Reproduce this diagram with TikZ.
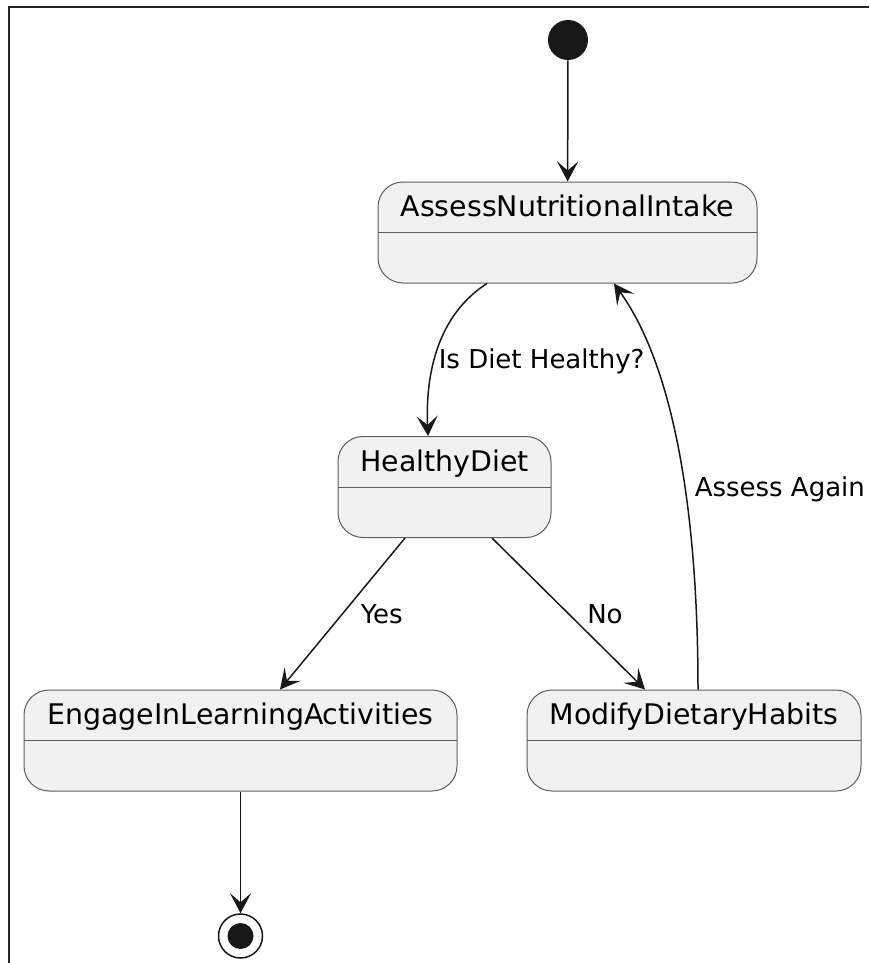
\documentclass[tikz,border=0pt]{standalone}
\usepackage{fontspec}
\setmainfont{DejaVu Sans}
\usetikzlibrary{arrows.meta}
\definecolor{statefill}{HTML}{F1F1F1}
\definecolor{stateline}{HTML}{181818}
\tikzset{
  statebox/.style={draw=stateline!70, line width=0.5pt, fill=statefill, rounded corners=12.5pt,
    minimum height=50.5pt, text height=10pt, text depth=26pt, inner xsep=0pt,
    font=\fontsize{14.2}{16}\selectfont,
    path picture={\draw[stateline!70, line width=0.5pt] (path picture bounding box.west) -- (path picture bounding box.east);}},
  trans/.style={draw=stateline, line width=0.75pt, -{Stealth[length=10pt,width=10.5pt,inset=4.5pt]}},
  lbl/.style={font=\fontsize{13}{15}\selectfont, anchor=west, inner sep=2pt}
}
\begin{document}
\begin{tikzpicture}[x=0.5pt, y=-0.5pt]
\useasboundingbox (0,0) rectangle (869,963);
\draw[line width=1pt, black!85] (9,963) -- (9,7) -- (869,7);
\node[circle, fill=stateline, minimum size=20pt, inner sep=0pt] (start) at (568,40) {};
\node[statebox, minimum width=189.5pt] (assess) at (567.5,232.5) {AssessNutritionalIntake};
\node[statebox, minimum width=106.5pt] (healthy) at (444.5,487) {HealthyDiet};
\node[statebox, minimum width=216.5pt] (engage) at (240.5,740.5) {EngageInLearningActivities};
\node[statebox, minimum width=167pt] (modify) at (694,740.5) {ModifyDietaryHabits};
\node[circle, draw=stateline, line width=0.75pt, minimum size=22pt, inner sep=0pt] (stop) at (240.5,936) {};
\node[circle, fill=stateline, minimum size=13pt, inner sep=0pt] (stopdot) at (stop) {};
\draw[trans] (start) -- (assess);
\draw[trans] ([xshift=-40.25pt]assess.south) .. controls (430,320) and (426,390) .. ([xshift=-8.25pt]healthy.north)
    node[lbl, pos=0.53] (ask) {Is Diet Healthy?};
\draw[trans] ([xshift=-19.75pt]healthy.south) -- node[lbl, xshift=6.75pt] (yes) {Yes} ([xshift=19.75pt]engage.north);
\draw[trans] ([xshift=23.75pt]healthy.south) -- node[lbl, xshift=7pt] (no) {No} ([xshift=-24.5pt]modify.north);
\draw[trans] ([xshift=2pt]modify.north) .. controls (698,520) and (676,370) .. ([xshift=23.25pt]assess.south)
    node[lbl, pos=0.42, xshift=2.5pt] (again) {Assess Again};
\draw[trans] (engage) -- (stop);
\end{tikzpicture}
\end{document}
